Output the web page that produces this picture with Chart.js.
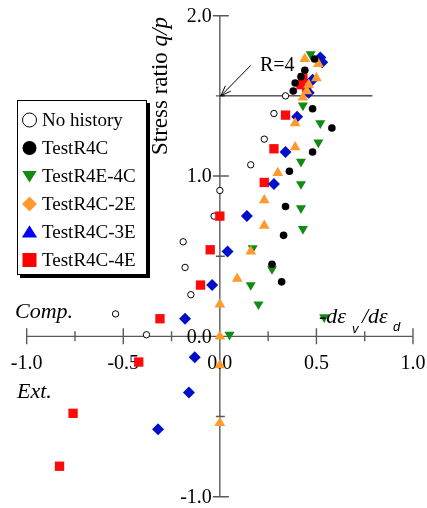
<!DOCTYPE html>
<html>
<head>
<meta charset="utf-8">
<script src="https://cdn.jsdelivr.net/npm/chart.js@4.4.1/dist/chart.umd.min.js"></script>
<style>
  html, body { margin: 0; padding: 0; background: #fff; }
  #wrap { width: 427px; height: 508px; position: relative; }
</style>
</head>
<body>
<div id="wrap"><canvas id="dilatancyChart"></canvas></div>
<script>
// stress ratio q/p against dilatancy -dev/ded, each point is [x, y]
const noHistory = [
  [0.34, 1.50], [0.28, 1.39], [0.23, 1.23], [0.16, 1.07], [0.00, 0.91], [-0.03, 0.75],
  [-0.19, 0.59], [-0.18, 0.43], [-0.15, 0.26], [-0.54, 0.14], [-0.38, 0.01]
];
const testR4C = [
  [0.49, 1.73], [0.44, 1.66], [0.42, 1.62], [0.39, 1.58], [0.38, 1.53], [0.48, 1.42],
  [0.58, 1.30], [0.48, 1.15], [0.36, 1.03], [0.34, 0.81], [0.33, 0.63], [0.27, 0.45], [0.32, 0.34]
];
const testR4E4C = [
  [0.47, 1.76], [0.43, 1.44], [0.52, 1.33], [0.51, 1.21], [0.42, 1.09], [0.42, 0.95],
  [0.42, 0.80], [0.43, 0.67], [0.17, 0.55], [0.27, 0.42], [0.16, 0.32], [0.20, 0.20],
  [0.54, 0.12], [0.05, 0.01]
];
const testR4C2E = [
  [0.44, 1.73], [0.51, 1.70], [0.50, 1.61], [0.46, 1.57], [0.45, 1.53], [0.43, 1.49],
  [0.39, 1.33], [0.39, 1.18], [0.30, 1.02], [0.23, 0.85], [0.23, 0.69], [0.16, 0.53],
  [0.09, 0.36], [0.00, 0.20], [0.00, 0.00], [0.00, -0.18], [0.00, -0.54]
];
const testR4C3E = [
  [0.52, 1.74], [0.53, 1.71], [0.48, 1.60], [0.46, 1.52], [0.40, 1.37], [0.34, 1.15],
  [0.28, 0.95], [0.14, 0.75], [0.04, 0.53], [-0.04, 0.32], [-0.18, 0.11], [-0.13, -0.13],
  [-0.16, -0.35], [-0.32, -0.58]
];
const testR4C4E = [
  [0.43, 1.61], [0.42, 1.57], [0.45, 1.54], [0.34, 1.38], [0.28, 1.17], [0.23, 0.96],
  [0.00, 0.75], [-0.05, 0.54], [-0.10, 0.32], [-0.31, 0.11], [-0.42, -0.16], [-0.76, -0.48],
  [-0.83, -0.81]
];

const seriesNames = ['No history', 'TestR4C', 'TestR4E-4C', 'TestR4C-2E', 'TestR4C-3E', 'TestR4C-4E'];

const xTicks = [-1.0, -0.5, 0.0, 0.5, 1.0];
const xTickLabels = ['-1.0', '-0.5', '0.0', '0.5', '1.0'];
const xMinorTicks = [-0.75, -0.25, 0.25, 0.75];
const yTicks = [-1.0, 0.0, 1.0, 2.0];
const yTickLabels = ['-1.0', '0.0', '1.0', '2.0'];
const yMinorTicks = [-0.5, 0.5, 1.5];

// R=4 line and its arrow (data units)
const refLineY = 1.5;
const refLineEndX = 0.79;
const refArrowFrom = [0.16, 1.69];

const SERIF = '"Liberation Serif", "Times New Roman", serif';
const SANS = '"Liberation Sans", Arial, sans-serif';

const toXY = pts => pts.map(p => ({ x: p[0], y: p[1] }));

// legend symbols (the legend draws its own shapes)
const legendSymbols = [
  { shape: 'circle', size: 7, fill: '#fff', stroke: '#000' },
  { shape: 'circle', size: 7, fill: '#000' },
  { shape: 'triDown', size: 8, fill: '#138a13' },
  { shape: 'diamond', size: 7.5, fill: '#ff9a33' },
  { shape: 'triUp', size: 8.5, fill: '#0000ff' },
  { shape: 'square', size: 7, fill: '#ff0000' }
];

function drawSymbol(ctx, s, cx, cy) {
  const r = s.size;
  ctx.beginPath();
  if (s.shape === 'circle') {
    ctx.arc(cx, cy, r, 0, Math.PI * 2);
  } else if (s.shape === 'square') {
    ctx.rect(cx - r, cy - r, 2 * r, 2 * r);
  } else if (s.shape === 'diamond') {
    ctx.moveTo(cx, cy - r); ctx.lineTo(cx + r, cy); ctx.lineTo(cx, cy + r); ctx.lineTo(cx - r, cy);
    ctx.closePath();
  } else if (s.shape === 'triUp') {
    const h = r * 0.8;
    ctx.moveTo(cx, cy - h); ctx.lineTo(cx + r * 0.9, cy + h * 0.8); ctx.lineTo(cx - r * 0.9, cy + h * 0.8);
    ctx.closePath();
  } else if (s.shape === 'triDown') {
    const h = r * 0.8;
    ctx.moveTo(cx, cy + h); ctx.lineTo(cx + r * 0.9, cy - h * 0.8); ctx.lineTo(cx - r * 0.9, cy - h * 0.8);
    ctx.closePath();
  }
  ctx.fillStyle = s.fill;
  ctx.fill();
  if (s.stroke) {
    ctx.lineWidth = 1;
    ctx.strokeStyle = s.stroke;
    ctx.stroke();
  }
}

const crossAxes = {
  id: 'crossAxes',
  beforeDatasetsDraw(chart) {
    const { ctx, scales: { x, y } } = chart;
    const x0 = x.getPixelForValue(0);
    const y0 = y.getPixelForValue(0);
    ctx.save();

    // axis lines and ticks
    ctx.strokeStyle = '#5a5a5a';
    ctx.lineWidth = 1.4;
    ctx.beginPath();
    ctx.moveTo(x.getPixelForValue(-1), y0);
    ctx.lineTo(x.getPixelForValue(1), y0);
    ctx.moveTo(x0, y.getPixelForValue(-1));
    ctx.lineTo(x0, y.getPixelForValue(2));
    xTicks.forEach(v => { const px = x.getPixelForValue(v); ctx.moveTo(px, y0 - 8); ctx.lineTo(px, y0 + 8); });
    xMinorTicks.forEach(v => { const px = x.getPixelForValue(v); ctx.moveTo(px, y0 - 5); ctx.lineTo(px, y0 + 5); });
    yTicks.forEach(v => { const py = y.getPixelForValue(v); ctx.moveTo(x0 - 7, py); ctx.lineTo(x0 + 9, py); });
    yMinorTicks.forEach(v => { const py = y.getPixelForValue(v); ctx.moveTo(x0 - 4, py); ctx.lineTo(x0 + 5, py); });
    ctx.stroke();

    // tick labels
    ctx.fillStyle = '#000';
    ctx.font = '20px ' + SERIF;
    ctx.textBaseline = 'middle';
    ctx.textAlign = 'center';
    xTicks.forEach((v, i) => ctx.fillText(xTickLabels[i], x.getPixelForValue(v), y0 + 27));
    ctx.textAlign = 'right';
    yTicks.forEach((v, i) => ctx.fillText(yTickLabels[i], x0 - 8, y.getPixelForValue(v) + 1));

    // R=4 line with arrow
    const ry = y.getPixelForValue(refLineY);
    ctx.strokeStyle = '#000';
    ctx.lineWidth = 1;
    ctx.beginPath();
    ctx.moveTo(x0, ry);
    ctx.lineTo(x.getPixelForValue(refLineEndX), ry);
    const ax = x.getPixelForValue(refArrowFrom[0]);
    const ay = y.getPixelForValue(refArrowFrom[1]);
    const tx = x0 + 1, ty = ry;
    ctx.moveTo(ax, ay);
    ctx.lineTo(tx, ty);
    const ang = Math.atan2(ay - ty, ax - tx);
    [-0.35, 0.35].forEach(d => {
      ctx.moveTo(tx, ty);
      ctx.lineTo(tx + 11 * Math.cos(ang + d), ty + 11 * Math.sin(ang + d));
    });
    ctx.stroke();
    ctx.textAlign = 'left';
    ctx.font = '20px ' + SERIF;
    ctx.fillText('R=4', 260, 66);

    // axis titles
    ctx.textBaseline = 'alphabetic';
    ctx.save();
    ctx.translate(167, 155);
    ctx.rotate(-Math.PI / 2);
    ctx.font = '23px ' + SERIF;
    const head = 'Stress ratio ';
    ctx.fillText(head, 0, 0);
    const hw = ctx.measureText(head).width;
    ctx.font = 'italic 23px ' + SERIF;
    ctx.fillText('q/p', hw, 0);
    ctx.restore();

    ctx.font = 'italic 22px ' + SERIF;
    ctx.fillText('Comp.', 15, 318);
    ctx.fillText('Ext.', 17, 398);

    ctx.restore();
  },
  afterDatasetsDraw(chart) {
    const { ctx } = chart;
    ctx.save();
    // x title drawn above the points
    ctx.fillStyle = '#000';
    ctx.textBaseline = 'alphabetic';
    ctx.textAlign = 'left';
    ctx.font = 'italic 22px ' + SERIF;
    ctx.fillText('-d\u03b5', 319, 323);
    ctx.fillText('/d\u03b5', 362, 323);
    ctx.font = 'italic 13px ' + SANS;
    ctx.fillText('v', 352, 333);
    ctx.fillText('d', 393, 331);

    // legend box with drop shadow
    const bx = 17, by = 100, bw = 130, bh = 175;
    ctx.fillStyle = '#000';
    ctx.fillRect(bx + 3, by + 3, bw, bh);
    ctx.fillStyle = '#fff';
    ctx.fillRect(bx, by, bw, bh);
    ctx.strokeStyle = '#000';
    ctx.lineWidth = 1;
    ctx.strokeRect(bx + 0.5, by + 0.5, bw - 1, bh - 1);

    ctx.font = '19px ' + SERIF;
    ctx.textBaseline = 'middle';
    seriesNames.forEach((name, i) => {
      const ey = 120 + i * 28;
      drawSymbol(ctx, legendSymbols[i], 29.5, ey);
      ctx.fillStyle = '#000';
      ctx.fillText(name, 42, ey + 1);
    });
    ctx.restore();
  }
};

new Chart(document.getElementById('dilatancyChart'), {
  type: 'scatter',
  data: {
    datasets: [
      {
        label: seriesNames[0], data: toXY(noHistory), order: 5,
        pointStyle: 'circle', pointRadius: 3.2,
        backgroundColor: '#fff', borderColor: '#000', borderWidth: 1
      },
      {
        label: seriesNames[1], data: toXY(testR4C), order: 0,
        pointStyle: 'circle', pointRadius: 3.8,
        backgroundColor: '#000', borderColor: '#000', borderWidth: 0
      },
      {
        label: seriesNames[2], data: toXY(testR4E4C), order: 3,
        pointStyle: 'triangle', rotation: 180, pointRadius: 5.8,
        backgroundColor: '#138a13', borderWidth: 0
      },
      {
        label: seriesNames[3], data: toXY(testR4C2E), order: 1,
        pointStyle: 'triangle', pointRadius: 6.2,
        backgroundColor: '#ff9a2e', borderWidth: 0
      },
      {
        label: seriesNames[4], data: toXY(testR4C3E), order: 2,
        pointStyle: 'rectRot', pointRadius: 6,
        backgroundColor: '#0010c8', borderWidth: 0
      },
      {
        label: seriesNames[5], data: toXY(testR4C4E), order: 4,
        pointStyle: 'rect', pointRadius: 6.6,
        backgroundColor: '#ff0a0a', borderWidth: 0
      }
    ]
  },
  options: {
    responsive: true,
    maintainAspectRatio: false,
    animation: false,
    events: [],
    clip: false,
    layout: { padding: { left: 26.7, right: 14, top: 15.7, bottom: 11.3 } },
    scales: {
      x: { type: 'linear', min: -1, max: 1, display: false },
      y: { type: 'linear', min: -1, max: 2, display: false }
    },
    plugins: {
      legend: { display: false },
      tooltip: { enabled: false }
    }
  },
  plugins: [crossAxes]
});
</script>
</body>
</html>
